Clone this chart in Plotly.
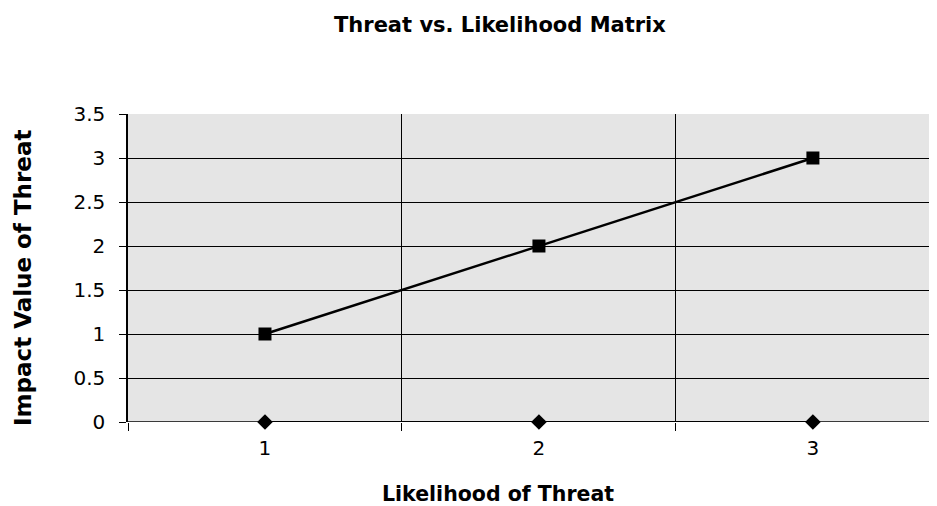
import plotly.graph_objects as go

likelihood = [1, 2, 3]
impact = [1, 2, 3]
baseline = [0, 0, 0]
x_tick_labels = ["1", "2", "3"]
y_ticks = [0, 0.5, 1, 1.5, 2, 2.5, 3, 3.5]

FONT = "DejaVu Sans, Liberation Sans, Arial, sans-serif"

# the page body has an 8px margin, so the figure is 8px smaller and shifted
OFF = 8
W, H = 937 - OFF, 506 - OFF
L, R, T, B = 128 - OFF, 0, 114 - OFF, 506 - 422

fig = go.Figure()
fig.add_trace(go.Scatter(
    x=likelihood, y=baseline, mode="lines+markers",
    line=dict(color="black", width=2),
    marker=dict(symbol="diamond", size=12, color="black"),
    showlegend=False, cliponaxis=False,
))
fig.add_trace(go.Scatter(
    x=likelihood, y=impact, mode="lines+markers",
    line=dict(color="black", width=2.5),
    marker=dict(symbol="square", size=13, color="black"),
    showlegend=False, cliponaxis=False,
))

fig.update_layout(
    width=W, height=H,
    margin=dict(l=L, r=R, t=T, b=B),
    paper_bgcolor="white",
    plot_bgcolor="#e5e5e5",
    font=dict(family=FONT, size=20, color="black"),
    showlegend=False,
    xaxis=dict(
        range=[0.5, 3.453],
        tickvals=likelihood, ticktext=x_tick_labels,
        ticks="", showgrid=False, zeroline=False,
        showline=False,
        tickfont=dict(size=20),
        ticklabelstandoff=12,
        minor=dict(tick0=0.5, dtick=1, ticks="outside", ticklen=8,
                   tickcolor="black", tickwidth=1,
                   showgrid=True, gridcolor="black", gridwidth=1),
    ),
    yaxis=dict(
        range=[0, 3.5], tickvals=y_ticks,
        ticktext=[f"{v:g}" for v in y_ticks],
        ticks="outside", ticklen=7, tickcolor="black", tickwidth=1,
        showgrid=True, gridcolor="black", gridwidth=1,
        zeroline=False, showline=True, linecolor="black", linewidth=1.5,
        tickfont=dict(size=20),
        ticklabelstandoff=10,
    ),
    annotations=[
        dict(text="<b>Threat vs. Likelihood Matrix</b>", x=500, y=25,
             xref="paper", yref="paper", showarrow=False,
             font=dict(size=21)),
        dict(text="<b>Likelihood of Threat</b>", x=498, y=494,
             xref="paper", yref="paper", showarrow=False,
             font=dict(size=20.5)),
        dict(text="<b>Impact Value of Threat</b>", x=23, y=278,
             xref="paper", yref="paper", showarrow=False, textangle=-90,
             font=dict(size=23)),
    ],
)

# convert reference-pixel annotation positions to paper coordinates
pw, ph = W - L - R, H - T - B
for a in fig.layout.annotations:
    a.x = (a.x - OFF - L) / pw
    a.y = 1 - (a.y - OFF - T) / ph
    a.xanchor = "center"
    a.yanchor = "middle"

fig.add_shape(type="line", xref="paper", yref="y", x0=0, x1=1, y0=0, y1=0,
              line=dict(color="black", width=1.5))

fig.write_html("out.html")
